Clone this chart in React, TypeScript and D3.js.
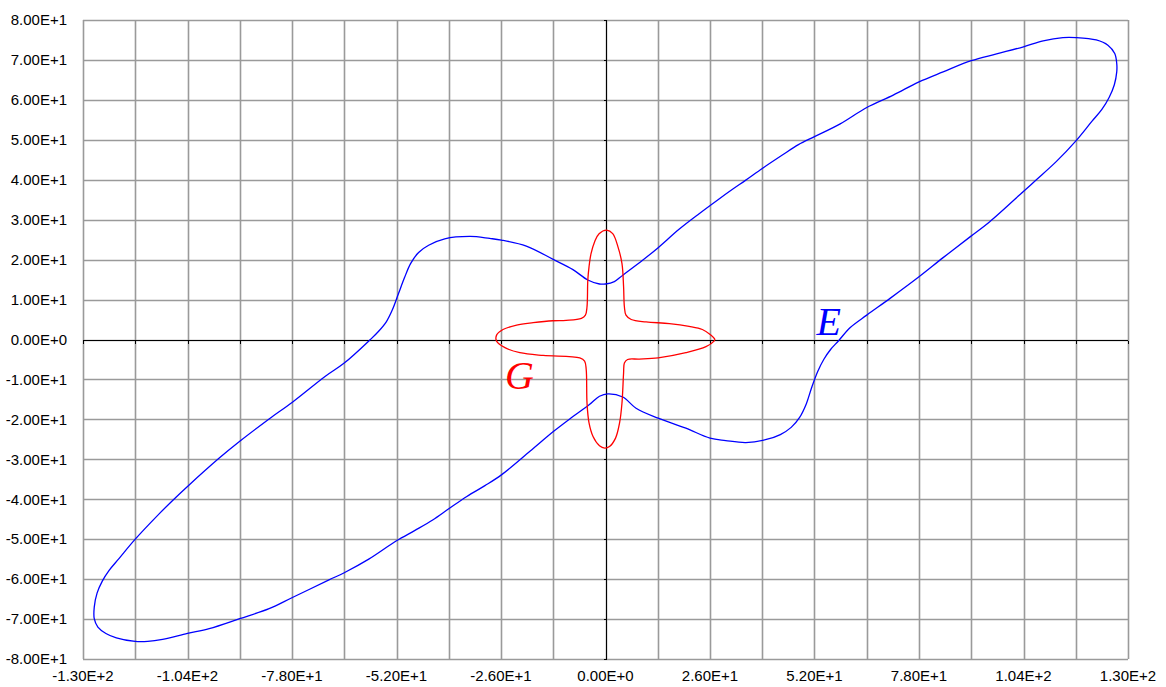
import React from "react";
import * as d3 from "d3";

const xTickLabels = [-130, -104, -78, -52, -26, 0, 26, 52, 78, 104, 130];
const xGrid = [-130, -117, -104, -91, -78, -65, -52, -39, -26, -13, 0, 13, 26, 39, 52, 65, 78, 91, 104, 117, 130];
const yTicks = [80, 70, 60, 50, 40, 30, 20, 10, 0, -10, -20, -30, -40, -50, -60, -70, -80];

const curveE: [number, number][] = [
  [0, 13.9], [2.2, 14.5], [4.3, 16.1], [9.3, 19.9], [13.1, 23], [18.3, 27.6], [23.3, 31.5], [28, 35],
  [31.6, 37.6], [34.9, 39.9], [39.1, 42.9], [44.0, 46.2], [48, 48.8], [52, 50.8], [58.4, 54], [65, 58.1], [71.6, 61.2],
  [78, 64.5], [84, 67], [91, 69.8], [97.3, 71.5], [104, 73.3], [108.9, 74.8], [113.8, 75.6], [117.1, 75.6],
  [122.1, 75.0], [125, 73.7], [126.7, 71.6], [127.2, 69.1], [127.2, 67], [126.6, 63.8], [125.3, 60.6],
  [123.5, 57.6], [121, 54.6], [117.1, 49.8], [112.2, 44.6], [107.2, 40], [103.9, 37], [95.6, 29.5],
  [90.7, 25.7], [84, 20.5], [78, 15.7], [70.8, 10.3], [65, 6.1], [60.9, 3], [58, -0.3], [56, -2.5],
  [54.3, -5], [52.8, -8], [51.3, -12], [50, -16], [48.3, -19.5], [46.2, -22],
  [43.5, -23.8], [39.8, -25.1], [34.9, -25.8], [29.9, -25.3], [26, -24.7], [20, -22.2], [13.1, -19.7],
  [7.6, -17.2], [4.3, -14.4], [0.6, -13.6], [-1.5, -14.2], [-4, -16.3], [-8.9, -19.9], [-12.9, -23],
  [-18.8, -28], [-25.9, -33.9], [-30, -36.6], [-34.5, -39.3], [-39, -42.4], [-43, -45.2], [-47.4, -47.8],
  [-52, -50.4], [-58.9, -55], [-65, -58.4], [-68.8, -60.2], [-77.9, -64.6], [-83.7, -67.4], [-91, -69.9],
  [-98.6, -72.4], [-104, -73.6], [-110.2, -75.1], [-113.9, -75.6], [-117, -75.6], [-121.7, -74.7],
  [-124.3, -73.6], [-126.3, -72], [-127.2, -69.9], [-127.2, -67], [-126.5, -63.5], [-125.2, -60.5],
  [-123.5, -57.8], [-121, -54.8], [-117, -50], [-111, -43.6], [-107.7, -40.3], [-104, -36.8],
  [-96.1, -29.7], [-91, -25.5], [-83.7, -19.9], [-77.9, -15.7], [-69.7, -9.2], [-65, -5.9], [-58.5, 0],
  [-56.5, 2], [-54.5, 4.5], [-53, 7.5], [-51.5, 11.5], [-50, 15.5], [-48.5, 19], [-46.5, 21.8],
  [-44, 23.6], [-40, 25.2], [-33.7, 25.8], [-28.8, 25.3], [-25.9, 24.9], [-19.7, 23.4], [-12.9, 20],
  [-8.1, 17.5], [-4.4, 14.9], [-1.5, 13.9],
];

const curveG: [number, number][] = [
  [27.2, 0], [26.2, 1.1], [24.1, 2.5], [20.8, 3.3], [15.9, 4.0], [10.1, 4.4], [6.4, 5.0], [5.1, 6.1],
  [4.7, 8.2], [4.5, 13.2], [4.1, 19.0], [3.1, 23.2], [1.8, 26.5], [0.3, 27.4], [-1.6, 26.5], [-2.7, 24.5],
  [-3.6, 21.5], [-4.1, 18.2], [-4.4, 14.9], [-4.6, 8.2], [-5.0, 6.1], [-6.0, 5.3], [-9.8, 4.8], [-13.1, 4.7],
  [-18.0, 4.2], [-22.1, 3.6], [-25.5, 2.5], [-27.1, 1.1], [-27.1, -0.4], [-24.9, -2.1], [-21.3, -3.3],
  [-15.5, -4.0], [-6.4, -4.6], [-5.2, -5.4], [-4.8, -7.5], [-4.6, -15.9], [-4.1, -20.9], [-3.1, -24.3],
  [-1.5, -26.6], [-0.2, -27.2], [1.0, -26.8], [2.5, -24.7], [3.5, -20.9], [4.1, -15.9], [4.5, -8.4],
  [4.7, -5.9], [5.5, -5.0], [8.4, -4.9], [13.1, -4.6], [20.0, -3.3], [25.0, -1.8], [27.0, -0.4],
];

const labelE = { text: "E", x: 52.5, y: 1.2 };
const labelG = { text: "G", x: -25.0, y: -12.3 };

function fmt(v: number): string {
  if (v === 0) return "0.00E+0";
  const e = Math.floor(Math.log10(Math.abs(v)));
  const m = v / Math.pow(10, e);
  return `${m.toFixed(2)}E+${e}`;
}

export default function App() {
  const W = 1166, H = 687;
  const left = 83, right = 1128, top = 20, bottom = 659;
  const x = d3.scaleLinear().domain([-130, 130]).range([left, right]);
  const y = d3.scaleLinear().domain([-80, 80]).range([bottom, top]);
  const line = d3
    .line<[number, number]>()
    .x((d) => x(d[0]))
    .y((d) => y(d[1]))
    .curve(d3.curveCatmullRomClosed.alpha(0.5));
  const px = (v: number) => Math.round(v) + 0.5;
  const gridColor = "#9a9a9a";
  return (
    <svg width={W} height={H} style={{ position: "absolute", left: 0, top: 0, background: "#fff" }}>
      <rect x={0} y={0} width={W} height={H} fill="#fff" />
      <g>
        {xGrid.map((v) => (
          <line key={"gx" + v} x1={px(x(v))} x2={px(x(v))} y1={top} y2={bottom} stroke={gridColor} strokeWidth={1.6} />
        ))}
        {yTicks.map((v) => (
          <line key={"gy" + v} x1={left} x2={right} y1={px(y(v))} y2={px(y(v))} stroke={gridColor} strokeWidth={1.6} />
        ))}
      </g>
      <g shapeRendering="crispEdges">
        <line x1={left} x2={right} y1={px(y(0))} y2={px(y(0))} stroke="#000" strokeWidth={1} />
        <line x1={px(x(0))} x2={px(x(0))} y1={top} y2={bottom} stroke="#000" strokeWidth={1} />
        {xGrid.map((v) => (
          <line key={"tx" + v} x1={px(x(v))} x2={px(x(v))} y1={px(y(0))} y2={px(y(0)) + 3} stroke="#000" strokeWidth={1} />
        ))}
        {yTicks.map((v) => (
          <line key={"ty" + v} x1={px(x(0)) - 3} x2={px(x(0))} y1={px(y(v))} y2={px(y(v))} stroke="#000" strokeWidth={1} />
        ))}
      </g>
      <path d={line(curveE) || ""} fill="none" stroke="#0000ff" strokeWidth={1.3} />
      <path d={line(curveG) || ""} fill="none" stroke="#ff0000" strokeWidth={1.3} />
      <g fontFamily="Arial, 'Liberation Sans', sans-serif" fontSize={15} fill="#000">
        {yTicks.map((v) => (
          <text key={"ly" + v} x={67} y={y(v)} dy="0.35em" textAnchor="end">
            {fmt(v)}
          </text>
        ))}
        {xTickLabels.map((v) => (
          <text key={"lx" + v} x={x(v)} y={681} textAnchor="middle">
            {fmt(v)}
          </text>
        ))}
      </g>
      <text x={x(labelE.x)} y={y(labelE.y)} fill="#0000ff" fontFamily="'Times New Roman', 'Liberation Serif', serif" fontStyle="italic" fontSize={40}>
        {labelE.text}
      </text>
      <text x={x(labelG.x)} y={y(labelG.y)} fill="#ff0000" fontFamily="'Times New Roman', 'Liberation Serif', serif" fontStyle="italic" fontSize={40}>
        {labelG.text}
      </text>
    </svg>
  );
}
